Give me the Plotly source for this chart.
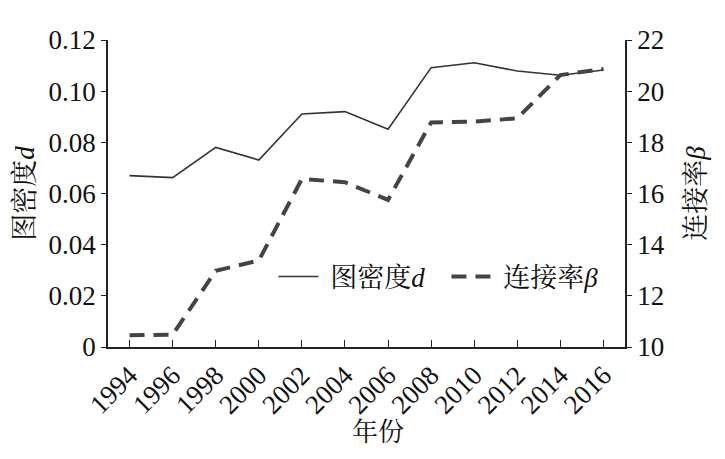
import plotly.graph_objects as go

years = ["1994", "1996", "1998", "2000", "2002", "2004", "2006", "2008", "2010", "2012", "2014", "2016"]
density_d = [0.067, 0.0662, 0.078, 0.0731, 0.0911, 0.092, 0.0851, 0.1092, 0.1111, 0.1079, 0.1062, 0.1083]
connect_beta = [10.46, 10.48, 12.98, 13.38, 16.57, 16.44, 15.75, 18.78, 18.81, 18.94, 20.63, 20.87]

left_ticks = [0, 0.02, 0.04, 0.06, 0.08, 0.10, 0.12]
left_labels = ["0", "0.02", "0.04", "0.06", "0.08", "0.10", "0.12"]
right_ticks = [10, 12, 14, 16, 18, 20, 22]

FONT = "'Liberation Serif', 'Times New Roman', 'Noto Serif CJK SC', 'Noto Sans CJK SC', serif"

fig = go.Figure()
fig.add_trace(go.Scatter(
    x=years, y=density_d, name=" 图密度<i>d</i>", mode="lines",
    line=dict(color="#333333", width=1.6), yaxis="y"))
fig.add_trace(go.Scatter(
    x=years, y=connect_beta, name=" 连接率<i>β</i>", mode="lines",
    line=dict(color="#444444", width=4, dash="15px,9px"), yaxis="y2"))

fig.update_layout(
    width=725, height=459,
    margin=dict(l=100, r=108, t=32, b=120),
    paper_bgcolor="white", plot_bgcolor="white",
    font=dict(family=FONT, size=27, color="#111111"),
    showlegend=True,
    legend=dict(orientation="h", x=0.32, y=0.228, xanchor="left", yanchor="middle",
                bgcolor="rgba(255,255,255,0)", font=dict(size=27, family=FONT),
                itemwidth=40, tracegroupgap=0, entrywidth=118, entrywidthmode="pixels"),
    xaxis=dict(type="category", range=[-0.5, 11.5], tickangle=-45,
               showline=True, linecolor="#222222", linewidth=1.6,
               ticks="inside", ticklen=7, tickcolor="#222222", tickwidth=1.3,
               showgrid=False, zeroline=False,
               tickfont=dict(size=27)),
    yaxis=dict(range=[0, 0.12], tickvals=left_ticks, ticktext=left_labels,
               showline=True, linecolor="#222222", linewidth=1.6,
               ticks="outside", ticklen=5, tickcolor="#222222", tickwidth=1.3,
               showgrid=False, zeroline=False,
               title=dict(text="图密度<i>d</i>", font=dict(size=27), standoff=6),
               tickfont=dict(size=27)),
    yaxis2=dict(range=[10, 22], tickvals=right_ticks, overlaying="y", side="right",
                showline=True, linecolor="#222222", linewidth=1.6,
                ticks="outside", ticklen=5, tickcolor="#222222", tickwidth=1.3,
                showgrid=False, zeroline=False,
                title=dict(text="连接率<i>β</i>", font=dict(size=27), standoff=22),
                tickfont=dict(size=27)),
    annotations=[dict(text="年份", xref="paper", yref="paper", x=0.522, y=-0.277,
                      xanchor="center", yanchor="middle", showarrow=False,
                      font=dict(size=26, family=FONT))],
)

fig.write_html("out.html")
